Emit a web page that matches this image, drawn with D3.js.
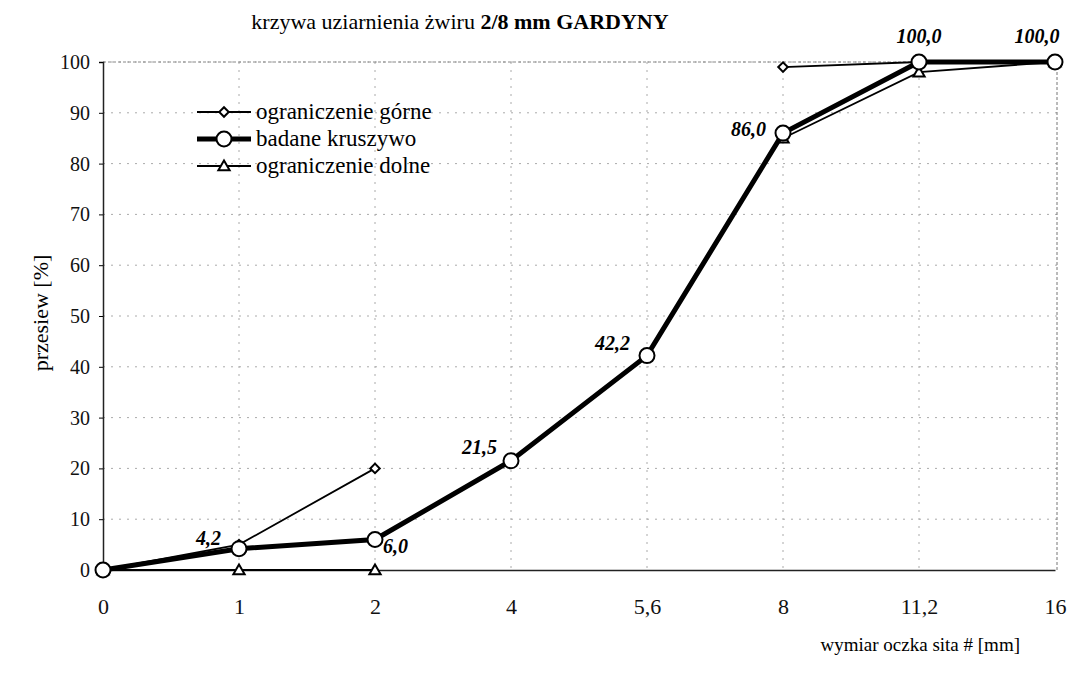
<!DOCTYPE html>
<html>
<head>
<meta charset="utf-8">
<script src="https://cdnjs.cloudflare.com/ajax/libs/d3/7.8.5/d3.min.js"></script>
<style>
  body { margin: 0; background: #fff; }
  svg { display: block; font-family: "Liberation Serif", "Times New Roman", serif; }
</style>
</head>
<body>
<svg id="chart" width="1089" height="673"></svg>
<script>
// sieve sizes (categorical axis)
const sieves = ['0', '1', '2', '4', '5,6', '8', '11,2', '16'];
const upperLimit = [0, 5, 20, null, null, 99, 100, 100];
const tested = [0, 4.2, 6.0, 21.5, 42.2, 86.0, 100.0, 100.0];
const lowerLimit = [0, 0, 0, null, null, 85, 98, 100];
const yTicks = [0, 10, 20, 30, 40, 50, 60, 70, 80, 90, 100];
// label placement for the tested curve: [dx, dy, anchor]
const labelPos = [null, [-18, -4, 'end'], [8, 13, 'start'], [-14, -7, 'end'], [-17, -6, 'end'], [-17, 3, 'end'], [0, -19, 'middle'], [-18, -19, 'middle']];

const svg = d3.select('#chart');
const x = d3.scalePoint().domain(sieves).range([103, 1055]);
const y = d3.scaleLinear().domain([0, 100]).range([570, 62]);

// grid (faint, broken like the scan)
const grid = svg.append('g').attr('stroke', '#aaa').attr('stroke-width', 1)
  .attr('stroke-dasharray', '2,6');
grid.selectAll('.hg').data(yTicks.filter(d => d > 0)).join('line')
  .attr('x1', 103).attr('x2', 1057)
  .attr('y1', d => y(d)).attr('y2', d => y(d));
grid.selectAll('.vg').data(sieves.slice(1, -1)).join('line')
  .attr('x1', d => x(d)).attr('x2', d => x(d))
  .attr('y1', 62).attr('y2', 570);
svg.append('line').attr('x1', 103).attr('x2', 1057).attr('y1', 62).attr('y2', 62)
  .attr('stroke', '#888').attr('stroke-dasharray', '3,2');
svg.append('line').attr('x1', 1057).attr('x2', 1057).attr('y1', 62).attr('y2', 570)
  .attr('stroke', '#777').attr('stroke-dasharray', '3,2');

// axes
const yAxis = svg.append('g').attr('transform', 'translate(103,0)')
  .call(d3.axisLeft(y).tickValues(yTicks).tickSize(4).tickPadding(9));
const xAxis = svg.append('g').attr('transform', 'translate(0,570)')
  .call(d3.axisBottom(x).tickSize(0).tickPadding(28));
[yAxis, xAxis].forEach(a => {
  a.select('.domain').attr('stroke', '#222').attr('stroke-width', 1.5);
  a.selectAll('text').attr('font-family', 'Liberation Serif').attr('fill', '#111');
});
yAxis.selectAll('text').attr('font-size', 20);
xAxis.selectAll('text').attr('font-size', 22);

// titles
const title = svg.append('text').attr('x', 460).attr('y', 29).attr('text-anchor', 'middle')
  .attr('font-size', 22);
title.append('tspan').text('krzywa uziarnienia żwiru ');
title.append('tspan').attr('font-weight', 'bold').text('2/8 mm GARDYNY');
svg.append('text').attr('x', 1020).attr('y', 651).attr('text-anchor', 'end')
  .attr('font-size', 19).text('wymiar oczka sita # [mm]');
svg.append('text').attr('transform', 'translate(48,313) rotate(-90)')
  .attr('text-anchor', 'middle').attr('font-size', 22).text('przesiew [%]');

const line = d3.line().defined(d => d.v !== null).x(d => x(d.k)).y(d => y(d.v));
const pts = arr => arr.map((v, i) => ({ k: sieves[i], v }));

const diamond = d3.symbol().type(d3.symbolSquare).size(45);
const triangle = d3.symbol().type(d3.symbolTriangle).size(55);

function drawSeries(data, width, marker) {
  const p = pts(data);
  svg.append('path').datum(p).attr('d', line).attr('fill', 'none')
    .attr('stroke', '#000').attr('stroke-width', width);
  const m = svg.append('g').selectAll('g').data(p.filter(d => d.v !== null)).join('g')
    .attr('transform', d => `translate(${x(d.k)},${y(d.v)})`);
  marker(m);
}

const addDiamond = g => g.append('path').attr('d', diamond).attr('transform', 'rotate(45)')
  .attr('fill', '#fff').attr('stroke', '#000').attr('stroke-width', 2);
const addTriangle = g => g.append('path').attr('d', triangle).attr('transform', 'translate(0,1)')
  .attr('fill', '#fff').attr('stroke', '#000').attr('stroke-width', 2);
const addCircle = g => g.append('circle').attr('r', 7.5)
  .attr('fill', '#fff').attr('stroke', '#000').attr('stroke-width', 2);

drawSeries(lowerLimit, 1.8, addTriangle);
drawSeries(upperLimit, 1.8, addDiamond);
drawSeries(tested, 5, addCircle);

// data labels
svg.append('g').selectAll('text').data(pts(tested).filter((d, i) => labelPos[i]))
  .join('text')
  .each(function (d) {
    const lp = labelPos[sieves.indexOf(d.k)];
    d3.select(this).attr('x', x(d.k) + lp[0]).attr('y', y(d.v) + lp[1])
      .attr('text-anchor', lp[2]);
  })
  .attr('font-size', 20).attr('font-weight', 'bold').attr('font-style', 'italic')
  .text(d => d.v.toFixed(1).replace('.', ','));

// legend
const legend = [
  { name: 'ograniczenie górne', w: 1.8, m: addDiamond },
  { name: 'badane kruszywo', w: 5, m: addCircle },
  { name: 'ograniczenie dolne', w: 1.8, m: addTriangle }
];
const lg = svg.append('g').selectAll('g').data(legend).join('g')
  .attr('transform', (d, i) => `translate(197,${112 + i * 27})`);
lg.append('line').attr('x1', 0).attr('x2', 54).attr('stroke', '#000').attr('stroke-width', d => d.w);
lg.each(function (d) {
  d.m(d3.select(this).append('g').attr('transform', 'translate(27,0)'));
});
lg.append('text').attr('x', 59).attr('y', 7).attr('font-size', 23).text(d => d.name);
</script>
</body>
</html>
